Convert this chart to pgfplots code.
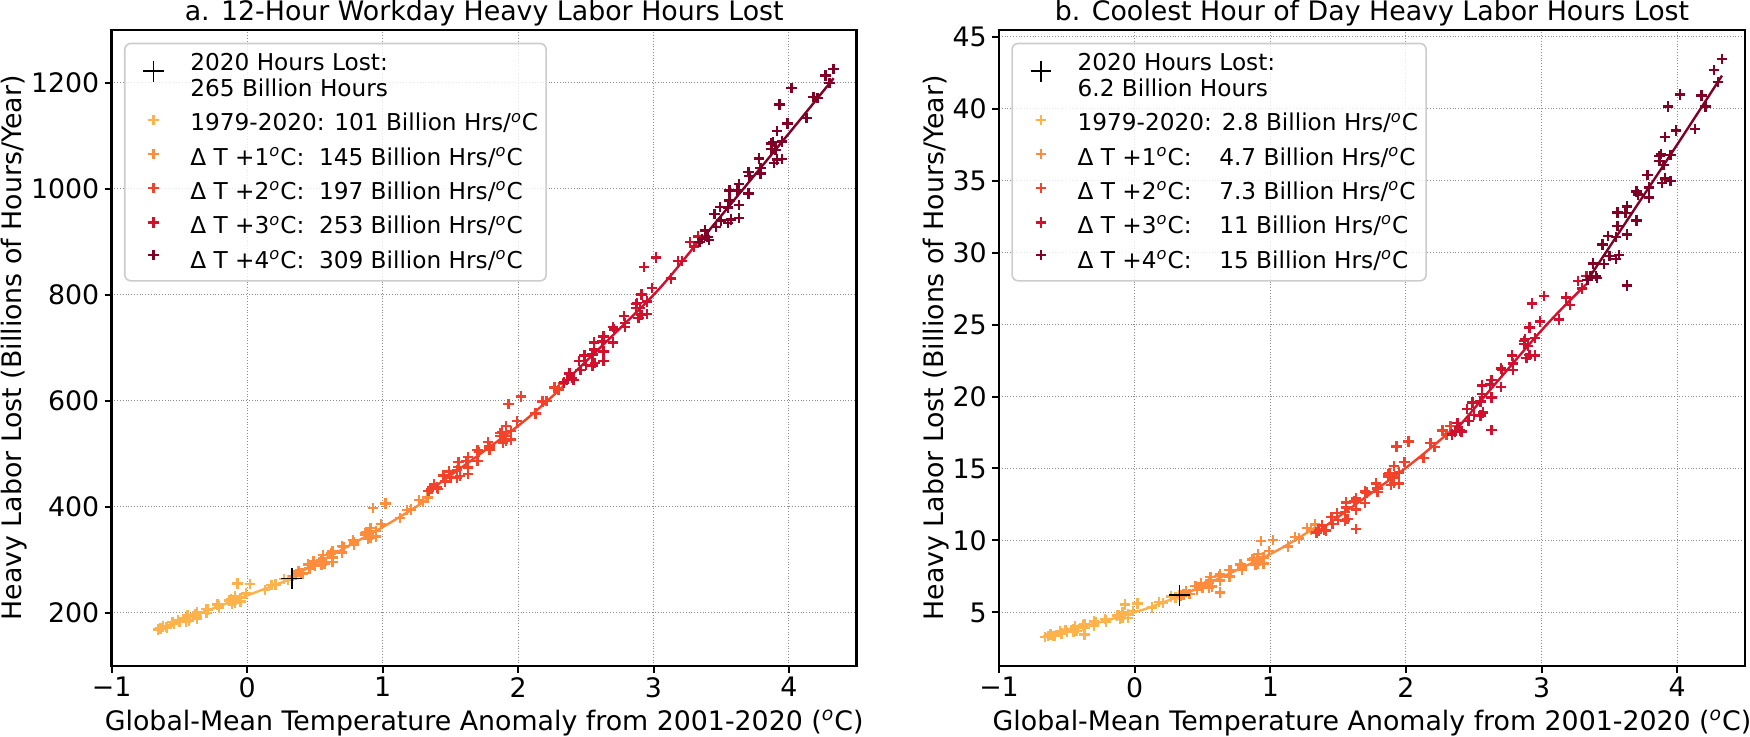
\documentclass[border=0pt]{standalone}
\usepackage{fontspec}
\setmainfont{DejaVu Sans}
\usepackage{pgfplots}
\pgfplotsset{compat=1.18}
\usepackage{pgfplotstable}

\definecolor{c0}{HTML}{FEB24C}
\definecolor{c1}{HTML}{FD8D3C}
\definecolor{c2}{HTML}{F2432A}
\definecolor{c3}{HTML}{D0102C}
\definecolor{c4}{HTML}{800026}

\newcommand{\dg}{\textsuperscript{\textit{o}}}
\newcommand{\legfont}{\fontsize{11.6}{13.9}\selectfont}
\newlength{\wa}

% panel a: 12-hour workday, hours lost (billions/year)
\pgfplotstableread{
x y
-0.60 173.1
-0.51 187.2
-0.44 192.2
-0.64 170.9
-0.45 183.7
-0.62 174.6
-0.66 169.0
-0.59 172.3
-0.44 196.0
-0.37 201.0
-0.50 182.7
-0.30 208.0
-0.37 188.2
-0.55 183.3
-0.54 178.8
-0.45 189.4
-0.30 199.8
-0.43 185.6
-0.29 206.9
-0.13 224.8
-0.38 198.1
-0.37 193.2
-0.21 210.5
-0.11 217.9
-0.12 225.8
-0.22 215.9
-0.05 221.4
-0.10 223.3
-0.07 255.6
-0.21 212.6
-0.09 219.8
-0.01 236.6
-0.13 222.6
-0.09 231.0
-0.05 228.2
0.02 255.0
0.18 253.0
0.30 262.1
0.21 253.4
0.13 243.1
0.27 264.4
0.33 265.0
}\ahist
\pgfplotstableread{
x y
0.40 275.8
0.49 296.9
0.56 303.8
0.36 273.0
0.55 290.4
0.38 278.6
0.34 270.0
0.41 274.4
0.56 309.8
0.63 316.8
0.50 289.6
0.70 326.7
0.63 296.6
0.45 291.2
0.46 284.0
0.55 299.4
0.70 313.9
0.57 293.1
0.71 324.9
0.87 350.8
0.62 312.3
0.63 304.4
0.79 329.5
0.89 339.8
0.88 352.2
0.78 338.0
0.95 344.4
0.90 348.1
0.93 398.1
0.79 332.8
0.91 342.5
0.99 367.8
0.87 347.3
0.91 360.0
0.95 355.0
1.02 406.5
1.18 394.3
1.30 409.4
1.21 395.2
1.13 378.7
1.27 412.8
1.33 418.1
}\aone
\pgfplotstableread{
x y
1.40 437.0
1.49 467.3
1.56 475.9
1.36 434.0
1.55 455.2
1.38 442.1
1.34 430.0
1.41 434.4
1.56 485.3
1.63 493.9
1.50 455.4
1.70 507.1
1.63 462.4
1.45 459.7
1.46 448.1
1.55 469.3
1.70 487.3
1.57 458.8
1.71 504.1
1.87 539.4
1.62 487.1
1.63 474.5
1.79 508.8
1.89 521.9
1.88 541.3
1.78 522.3
1.95 527.4
1.90 534.4
1.93 594.0
1.79 513.9
1.91 525.6
1.99 562.1
1.87 534.1
1.91 552.4
1.95 543.7
2.02 608.8
2.18 599.2
2.30 620.2
2.21 600.0
2.13 576.3
2.27 625.8
2.33 633.3
}\atwo
\pgfplotstableread{
x y
2.40 643.5
2.49 686.0
2.56 696.9
2.36 640.0
2.55 666.9
2.38 651.5
2.34 635.0
2.41 639.5
2.56 710.7
2.63 721.7
2.50 668.3
2.70 739.5
2.63 675.7
2.45 675.8
2.46 658.4
2.55 687.5
2.70 710.5
2.57 671.7
2.71 734.8
2.87 782.9
2.62 712.1
2.63 693.4
2.79 740.0
2.89 757.1
2.88 785.4
2.78 759.9
2.95 763.9
2.90 775.0
2.93 852.9
2.79 747.5
2.91 762.0
2.99 813.5
2.87 775.2
2.91 800.8
2.95 787.5
3.02 870.6
3.18 863.7
3.30 891.8
3.21 864.3
3.13 831.4
3.27 900.3
3.33 910.0
}\athree
\pgfplotstableread{
x y
3.40 909.4
3.49 965.5
3.56 978.0
3.36 906.2
3.55 936.2
3.38 921.5
3.34 900.0
3.41 903.3
3.56 997.3
3.63 1009.9
3.50 940.2
3.70 1032.0
3.63 945.5
3.45 952.9
3.46 927.9
3.55 965.2
3.70 991.6
3.57 942.3
3.71 1025.0
3.87 1085.9
3.62 996.9
3.63 970.3
3.79 1029.4
3.89 1049.4
3.88 1089.1
3.78 1057.4
3.95 1056.8
3.90 1073.9
3.93 1159.1
3.79 1039.8
3.91 1055.5
3.99 1123.9
3.87 1075.2
3.91 1109.3
3.95 1089.5
4.02 1190.2
4.18 1173.3
4.30 1199.5
4.21 1171.2
4.13 1134.5
4.27 1213.8
4.33 1226.0
}\afour

% panel b: coolest hour of day
\pgfplotstableread{
x y
-0.60 3.38
-0.51 3.79
-0.44 3.94
-0.64 3.35
-0.45 3.65
-0.62 3.47
-0.66 3.30
-0.59 3.38
-0.44 4.05
-0.37 4.17
-0.50 3.64
-0.30 4.36
-0.37 3.48
-0.55 3.69
-0.54 3.54
-0.45 3.84
-0.30 4.10
-0.43 3.70
-0.29 4.34
-0.13 4.80
-0.38 4.10
-0.37 3.93
-0.21 4.37
-0.11 4.58
-0.12 4.83
-0.22 4.56
-0.05 4.63
-0.10 4.74
-0.07 5.54
-0.21 4.46
-0.09 4.63
-0.01 5.12
-0.13 4.75
-0.09 5.01
-0.05 4.87
0.02 5.63
0.18 5.74
0.30 6.04
0.21 5.67
0.13 5.34
0.27 6.12
0.33 6.20
}\bhist
\pgfplotstableread{
x y
0.40 6.29
0.49 7.01
0.56 7.26
0.36 6.24
0.55 6.72
0.38 6.46
0.34 6.15
0.41 6.27
0.56 7.48
0.63 7.65
0.50 6.72
0.70 7.96
0.63 6.39
0.45 6.84
0.46 6.55
0.55 7.07
0.70 7.50
0.57 6.80
0.71 7.94
0.87 8.73
0.62 7.53
0.63 7.21
0.79 7.97
0.89 8.31
0.88 8.78
0.78 8.32
0.95 8.39
0.90 8.61
0.93 9.96
0.79 8.13
0.91 8.39
0.99 9.28
0.87 8.65
0.91 9.08
0.95 8.83
1.02 10.05
1.18 10.26
1.30 10.73
1.21 10.13
1.13 9.58
1.27 10.88
1.33 11.12
}\bone
\pgfplotstableread{
x y
1.40 10.74
1.49 11.92
1.56 12.29
1.36 10.69
1.55 11.38
1.38 11.04
1.34 10.55
1.41 10.70
1.56 12.65
1.63 12.91
1.50 11.41
1.70 13.39
1.63 10.78
1.45 11.64
1.46 11.14
1.55 11.98
1.70 12.61
1.57 11.51
1.71 13.33
1.87 14.58
1.62 12.71
1.63 12.15
1.79 13.35
1.89 13.87
1.88 14.66
1.78 13.96
1.95 13.97
1.90 14.37
1.93 16.54
1.79 13.62
1.91 14.01
1.99 15.43
1.87 14.44
1.91 15.16
1.95 14.71
2.02 16.88
2.18 16.77
2.30 17.37
2.21 16.50
2.13 15.73
2.27 17.65
2.33 17.95
}\btwo
\pgfplotstableread{
x y
2.40 17.65
2.49 19.57
2.56 20.17
2.36 17.57
2.55 18.68
2.38 18.15
2.34 17.35
2.41 17.58
2.56 20.76
2.63 21.16
2.50 18.73
2.70 21.95
2.63 17.66
2.45 19.12
2.46 18.30
2.55 19.66
2.70 20.67
2.57 18.89
2.71 21.85
2.87 23.87
2.62 20.84
2.63 19.92
2.79 21.84
2.89 22.69
2.88 23.98
2.78 22.85
2.95 22.85
2.90 23.50
2.93 26.45
2.79 22.29
2.91 22.90
2.99 25.22
2.87 23.63
2.91 24.79
2.95 24.05
3.02 26.97
3.18 26.88
3.30 27.51
3.21 26.37
3.13 25.34
3.27 28.04
3.33 28.36
}\bthree
\pgfplotstableread{
x y
3.40 28.38
3.49 31.15
3.56 31.85
3.36 28.39
3.55 29.54
3.38 29.24
3.34 28.10
3.41 28.23
3.56 32.79
3.63 33.20
3.50 29.77
3.70 34.23
3.63 27.72
3.45 30.56
3.46 29.21
3.55 31.09
3.70 32.23
3.57 29.81
3.71 34.04
3.87 36.72
3.62 32.73
3.63 31.26
3.79 33.82
3.89 34.85
3.88 36.86
3.78 35.40
3.95 34.95
3.90 36.08
3.93 40.15
3.79 34.51
3.91 35.13
3.99 38.48
3.87 36.36
3.91 38.03
3.95 36.79
4.02 40.97
4.18 40.91
4.30 41.85
4.21 40.14
4.13 38.60
4.27 42.66
4.33 43.45
}\bfour

\pgfplotsset{
  panel/.style={
    scale only axis, height=318pt,
    xmin=-1, xmax=4.5,
    xtick={-1,0,1,2,3,4}, xticklabels={−1,0,1,2,3,4},
    grid=major, grid style={densely dotted, black!45, line width=0.5pt},
    axis line style={line width=1.3pt},
    tick style={black, line width=1pt}, major tick length=3.5pt,
    tick align=outside, tick pos=left,
    xticklabel style={inner ysep=2pt},
    yticklabel style={inner xsep=2.5pt},
    /pgf/number format/assume math mode=true,
    xlabel={Global-Mean Temperature Anomaly from 2001-2020 (\dg C)},
    ylabel={Heavy Labor Lost (Billions of Hours/Year)},
    xlabel style={at={(axis description cs:0.5,-0.1016)}, anchor=base},
    title style={at={(axis description cs:0.5,1)}, anchor=base, yshift=-1.5pt},
    legend cell align=left,
    legend style={at={(0.0165,0.98)}, anchor=north west, draw=black!20,
      line width=0.8pt, rounded corners=3pt, fill=white, fill opacity=0.8,
      text opacity=1, inner xsep=4pt, inner ysep=2pt, row sep=0pt,
      column sep=8pt, font=\legfont,
      nodes={inner xsep=0pt, inner ysep=0pt, text height=11pt, text depth=6.15pt}},
  },
  sc/.style={only marks, mark=+, mark size=2.6pt, color=#1,
    mark options={line width=1.2pt},
    legend image code/.code={\path (0pt,0pt) (20pt,0pt);
      \pgfinterruptboundingbox
      \draw[##1] plot coordinates {(10pt,3.2pt)};
      \endpgfinterruptboundingbox}},
  big/.style={only marks, mark=+, mark size=5.2pt, black,
    mark options={line width=0.9pt},
    legend image code/.code={\path (0pt,0pt) (20pt,0pt);
      \pgfinterruptboundingbox
      \draw[##1] plot coordinates {(10pt,-4.6pt)};
      \endpgfinterruptboundingbox}},
  fit/.style={no marks, smooth, line width=1.2pt, color=#1, forget plot},
}

\begin{document}%
\legfont%
\settowidth{\wa}{1979-2020:\ }%
\fontsize{13.4}{16}\selectfont%
\begin{tikzpicture}
\path[use as bounding box] (0,0) rectangle (875pt,368.5pt);

\begin{axis}[panel, at={(55.85pt,35.5pt)}, anchor=south west, width=372.5pt,
  ymin=100, ymax=1300,
  ytick={200,400,600,800,1000,1200}, yticklabels={200,400,600,800,1000,1200},
  ylabel style={at={(axis description cs:-0.1208,0.5)}, anchor=base},
  title={a. 12-Hour Workday Heavy Labor Hours Lost}]
\addlegendimage{big}
\addlegendentry[text height=11.65pt, text depth=3pt]{2020 Hours Lost:}
\addlegendimage{empty legend}
\addlegendentry[text height=10pt]{265 Billion Hours}
\addplot[sc=c0] table {\ahist};
\addlegendentry[text height=10.85pt]{1979-2020: 101 Billion Hrs/\dg C}
\addplot[sc=c1] table {\aone};
\addlegendentry{Δ T +1\dg C:\ \ 145 Billion Hrs/\dg C}
\addplot[sc=c2] table {\atwo};
\addlegendentry{Δ T +2\dg C:\ \ 197 Billion Hrs/\dg C}
\addplot[sc=c3] table {\athree};
\addlegendentry{Δ T +3\dg C:\ \ 253 Billion Hrs/\dg C}
\addplot[sc=c4] table {\afour};
\addlegendentry[text depth=4.4pt]{Δ T +4\dg C:\ \ 309 Billion Hrs/\dg C}
\addplot[fit=c0] coordinates {(-0.66,169) (0,233) (0.33,265)};
\addplot[fit=c1] coordinates {(0.34,270) (1,362) (1.33,414)};
\addplot[fit=c2] coordinates {(1.34,430) (2,553) (2.33,627)};
\addplot[fit=c3] coordinates {(2.34,635) (3,800) (3.33,901)};
\addplot[fit=c4] coordinates {(3.34,900) (4,1105) (4.33,1209)};
\addplot[big, forget plot] coordinates {(0.33,265)};
\end{axis}

\begin{axis}[panel, at={(499.5pt,35.5pt)}, anchor=south west, width=373pt,
  ymin=1.28, ymax=45.46,
  ytick={5,10,15,20,25,30,35,40,45}, yticklabels={5,10,15,20,25,30,35,40,45},
  ylabel style={at={(axis description cs:-0.0746,0.5)}, anchor=base},
  title={b. Coolest Hour of Day Heavy Labor Hours Lost}]
\addlegendimage{big}
\addlegendentry[text height=11.65pt, text depth=3pt]{2020 Hours Lost:}
\addlegendimage{empty legend}
\addlegendentry[text height=10pt]{6.2 Billion Hours}
\addplot[sc=c0] table {\bhist};
\addlegendentry[text height=10.85pt]{1979-2020: 2.8 Billion Hrs/\dg C}
\addplot[sc=c1] table {\bone};
\addlegendentry{\makebox[\wa][l]{Δ T +1\dg C:}4.7 Billion Hrs/\dg C}
\addplot[sc=c2] table {\btwo};
\addlegendentry{\makebox[\wa][l]{Δ T +2\dg C:}7.3 Billion Hrs/\dg C}
\addplot[sc=c3] table {\bthree};
\addlegendentry{\makebox[\wa][l]{Δ T +3\dg C:}11 Billion Hrs/\dg C}
\addplot[sc=c4] table {\bfour};
\addlegendentry[text depth=4.4pt]{\makebox[\wa][l]{Δ T +4\dg C:}15 Billion Hrs/\dg C}
\addplot[fit=c0] coordinates {(-0.66,3.30) (0,5.0) (0.33,6.15)};
\addplot[fit=c1] coordinates {(0.34,6.15) (1,9.05) (1.33,10.9)};
\addplot[fit=c2] coordinates {(1.34,10.55) (2,15.05) (2.33,17.6)};
\addplot[fit=c3] coordinates {(2.34,17.35) (3,24.6) (3.33,27.8)};
\addplot[fit=c4] coordinates {(3.34,28.1) (4,37.5) (4.33,42.29)};
\addplot[big, forget plot] coordinates {(0.33,6.2)};
\end{axis}
\end{tikzpicture}%
\end{document}
